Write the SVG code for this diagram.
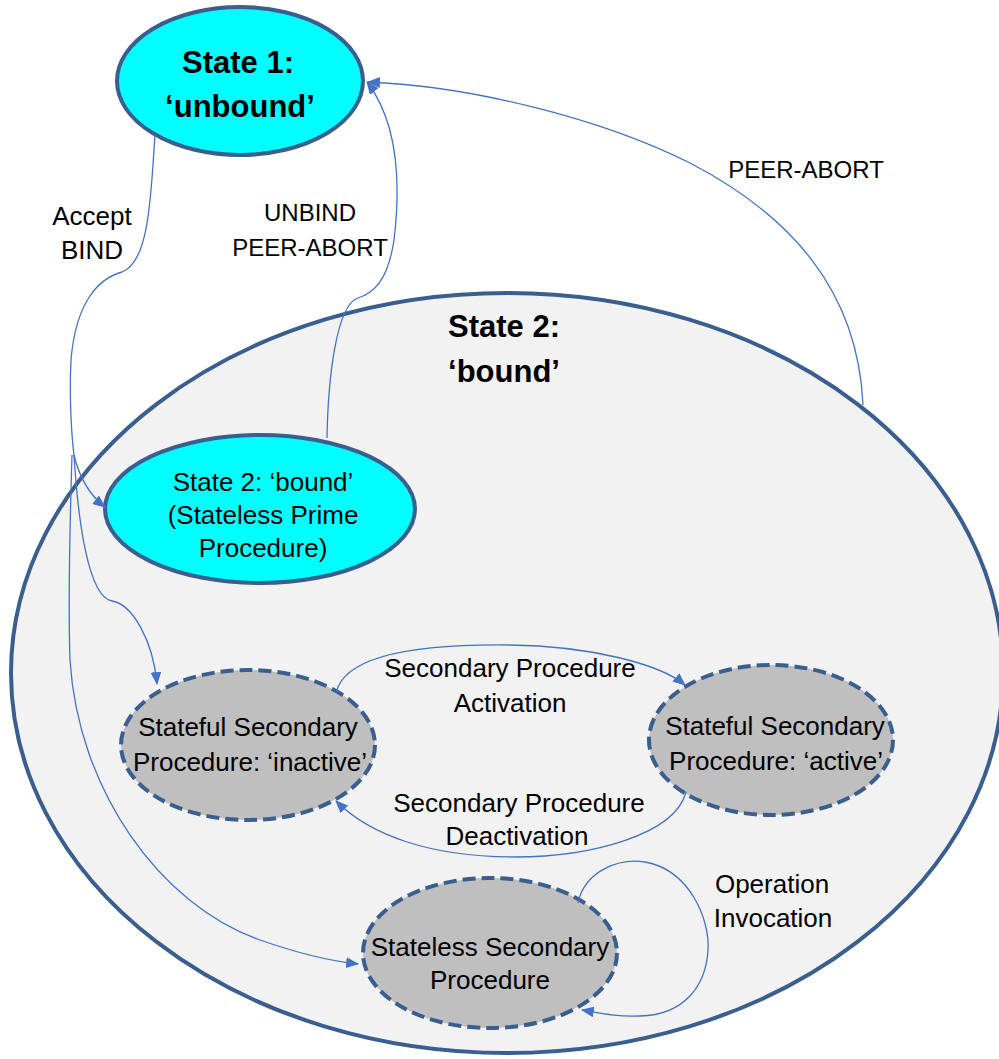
<svg xmlns="http://www.w3.org/2000/svg" width="999" height="1059" viewBox="0 0 999 1059">
<defs>
<marker id="arr" viewBox="0 0 12 10" refX="11" refY="5" markerWidth="13" markerHeight="11" markerUnits="userSpaceOnUse" orient="auto">
<path d="M0,0 L12,5 L0,10 z" fill="#4472C4"/>
</marker>
<style>
.t{font-family:"Liberation Sans",Arial,sans-serif;font-size:26px;fill:#000;text-anchor:middle}
.b{font-family:"Liberation Sans",Arial,sans-serif;font-size:31px;font-weight:bold;fill:#000;text-anchor:middle}
.c{font-family:"Liberation Sans",Arial,sans-serif;font-size:24px;fill:#000;text-anchor:middle}
.cyan{fill:#00FFFF;stroke:#3A5F8F;stroke-width:4}
.grey{fill:#BFBFBF;stroke:#3A5F8F;stroke-width:4;stroke-dasharray:13 6}
.e{fill:none;stroke:#4472C4;stroke-width:1.3}
</style>
</defs>
<rect width="999" height="1059" fill="#FFFFFF"/>
<g id="state2-bound-container">
<ellipse cx="507" cy="673" rx="496" ry="380" fill="#F2F2F2" stroke="#3A5F8F" stroke-width="4"/>
<text class="b" x="504" y="337">State 2:</text>
<text class="b" x="504" y="382">‘bound’</text>
</g>
<g id="state1-unbound">
<ellipse class="cyan" cx="240" cy="81" rx="123" ry="74"/>
<text class="b" x="238" y="73">State 1:</text>
<text class="b" x="240" y="117">‘unbound’</text>
</g>
<g id="state2-prime">
<ellipse class="cyan" cx="260" cy="509" rx="155" ry="74"/>
<text class="t" x="263" y="491">State 2: ‘bound’</text>
<text class="t" x="263" y="524">(Stateless Prime</text>
<text class="t" x="263" y="557">Procedure)</text>
</g>
<g id="stateful-inactive">
<ellipse class="grey" cx="248" cy="745" rx="127" ry="75"/>
<text class="t" x="248" y="736">Stateful Secondary</text>
<text class="t" x="250" y="771">Procedure: ‘inactive’</text>
</g>
<g id="stateful-active">
<ellipse class="grey" cx="771" cy="740" rx="122" ry="75"/>
<text class="t" x="775" y="735">Stateful Secondary</text>
<text class="t" x="776" y="770">Procedure: ‘active’</text>
</g>
<g id="stateless-secondary">
<ellipse class="grey" cx="490" cy="953" rx="127" ry="75"/>
<text class="t" x="490" y="956">Stateless Secondary</text>
<text class="t" x="490" y="989">Procedure</text>
</g>
<g id="connectors">
<path class="e" d="M155,135 C151,190 150,262 122,272 C100,278 76,300 71,360 C69,400 72,440 74,455 C80,480 92,497 105,507" marker-end="url(#arr)"/>
<path class="e" d="M74,455 C78,520 88,597 112,601 C132,604 153,640 157,684" marker-end="url(#arr)"/>
<path class="e" d="M72,455 C70,520 68,600 70,660 C78,790 160,905 260,940 C300,954 330,961 358,964" marker-end="url(#arr)"/>
<path class="e" d="M327,438 C328,380 336,305 358,298 C374,293 388,280 394,240 C400,190 400,125 367,82" marker-end="url(#arr)"/>
<path class="e" d="M863,405 C858,290 790,215 690,163 C600,118 470,86 368,82" marker-end="url(#arr)"/>
<path class="e" d="M336,693 C345,652 430,644 510,645 C590,646 660,664 685,685" marker-end="url(#arr)"/>
<path class="e" d="M686,792 C675,835 590,857 515,857 C430,857 370,835 336,801" marker-end="url(#arr)"/>
<path class="e" d="M578,903 C585,870 620,858 645,862 C690,870 710,920 708,950 C706,985 685,1015 640,1016 C615,1017 600,1013 582,1010" marker-end="url(#arr)"/>
<text class="t" x="92" y="225">Accept</text>
<text class="t" x="92" y="259">BIND</text>
<text class="c" x="310" y="221">UNBIND</text>
<text class="c" x="310" y="256">PEER-ABORT</text>
<text class="c" x="806" y="178">PEER-ABORT</text>
<text class="t" x="510" y="677">Secondary Procedure</text>
<text class="t" x="510" y="712">Activation</text>
<text class="t" x="519" y="812">Secondary Procedure</text>
<text class="t" x="517" y="845">Deactivation</text>
<text class="t" x="772" y="893">Operation</text>
<text class="t" x="773" y="927">Invocation</text>
</g>
</svg>
